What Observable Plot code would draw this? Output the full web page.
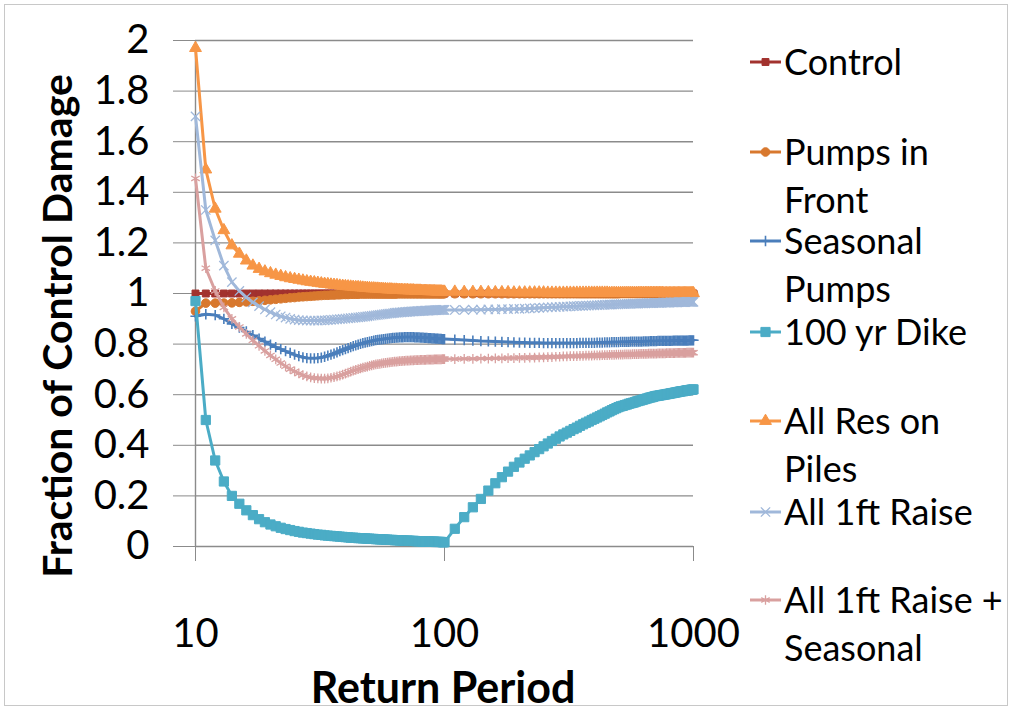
<!DOCTYPE html>
<html><head><meta charset="utf-8">
<script src="https://cdn.jsdelivr.net/npm/d3@7"></script>
<script src="https://cdn.jsdelivr.net/npm/@observablehq/plot@0.6"></script>
<style>
body{margin:0;background:#fff;}
#wrap{position:relative;width:1013px;height:711px;overflow:hidden;font-family:Lato,sans-serif;background:#fff;}
#frame{position:absolute;left:4px;top:4px;width:1004px;height:702px;border:1px solid #c8c8c8;box-sizing:border-box;pointer-events:none;}
#overlay{position:absolute;left:0;top:0;pointer-events:none;}
#wrap > svg.plot{position:absolute;left:0;top:0;}
</style></head><body><div id="wrap"><div id="frame"></div></div>
<script>
// Return periods: 10..100 by 1, then 110..1000 by 10
const returnPeriods = [...d3.range(10, 101, 1), ...d3.range(110, 1001, 10)];
const yTicks = [0, 0.2, 0.4, 0.6, 0.8, 1, 1.2, 1.4, 1.6, 1.8, 2];
const xTicks = [10, 100, 1000];
const seriesNames = ["Control", "Pumps in Front", "Seasonal Pumps", "100 yr Dike", "All Res on Piles", "All 1ft Raise", "All 1ft Raise + Seasonal"];

const control = [
1,1,1,1,1,1,1,1,1,1, 1,1,1,1,1,1,1,1,1,1, 1,1,1,1,1,1,1,1,1,1,
1,1,1,1,1,1,1,1,1,1, 1,1,1,1,1,1,1,1,1,1, 1,1,1,1,1,1,1,1,1,1,
1,1,1,1,1,1,1,1,1,1, 1,1,1,1,1,1,1,1,1,1, 1,1,1,1,1,1,1,1,1,1, 1,
1,1,1,1,1,1,1,1,1,1, 1,1,1,1,1,1,1,1,1,1, 1,1,1,1,1,1,1,1,1,1,
1,1,1,1,1,1,1,1,1,1, 1,1,1,1,1,1,1,1,1,1, 1,1,1,1,1,1,1,1,1,1,
1,1,1,1,1,1,1,1,1,1, 1,1,1,1,1,1,1,1,1,1, 1,1,1,1,1,1,1,1,1,1];

const pumpsInFront = [
0.930,0.962,0.962,0.962,0.963,0.965,0.967,0.969,0.971,0.973,
0.975,0.977,0.979,0.981,0.983,0.984,0.986,0.987,0.988,0.989,
0.990,0.991,0.992,0.993,0.993,0.994,0.994,0.995,0.995,0.996,
0.996,0.996,0.997,0.997,0.997,0.997,0.998,0.998,0.998,0.998,
0.998,0.998,0.998,0.998,0.998,0.998,0.998,0.998,0.998,0.998,
0.998,0.998,0.998,0.998,0.998,0.999,0.999,0.999,0.999,0.999,
0.999,0.999,0.999,0.999,0.999,0.999,0.999,0.999,0.999,0.999,
0.999,0.999,0.999,0.999,0.999,0.999,0.999,0.999,0.999,0.999,
0.999,0.999,0.999,0.999,0.999,0.999,0.999,0.999,0.999,0.999,
0.999,
0.999,0.999,0.999,0.999,0.999,0.999,0.999,0.999,0.999,0.999,
0.999,0.999,0.999,0.999,0.999,0.999,0.999,0.999,0.999,0.999,
0.999,0.999,0.999,0.999,0.999,0.999,0.999,0.999,0.999,0.999,
0.999,0.999,0.999,0.999,0.999,0.999,0.999,0.999,0.999,0.999,
1.000,1.000,1.000,1.000,1.000,1.000,1.000,1.000,1.000,1.000,
1.000,1.000,1.000,1.000,1.000,1.000,1.000,1.000,1.000,1.000,
1.000,1.000,1.000,1.000,1.000,1.000,1.000,1.000,1.000,1.000,
1.000,1.000,1.000,1.000,1.000,1.000,1.000,1.000,1.000,1.000,
1.000,1.000,1.000,1.000,1.000,1.000,1.000,1.000,1.000,1.000];

const seasonalPumps = [
0.910,0.918,0.915,0.900,0.880,0.865,0.850,0.835,0.822,0.810,
0.798,0.788,0.780,0.772,0.765,0.758,0.752,0.748,0.745,0.744,
0.744,0.745,0.747,0.750,0.754,0.758,0.762,0.767,0.772,0.776,
0.780,0.784,0.788,0.792,0.795,0.798,0.801,0.804,0.806,0.808,
0.810,0.812,0.814,0.816,0.817,0.818,0.819,0.820,0.821,0.822,
0.823,0.824,0.825,0.825,0.826,0.826,0.827,0.827,0.827,0.828,
0.828,0.828,0.828,0.828,0.828,0.828,0.827,0.827,0.827,0.827,
0.826,0.826,0.826,0.825,0.825,0.825,0.824,0.824,0.824,0.823,
0.823,0.823,0.822,0.822,0.822,0.821,0.821,0.821,0.820,0.820,
0.820,
0.818,0.816,0.814,0.812,0.811,0.810,0.809,0.808,0.807,0.806,
0.806,0.805,0.805,0.805,0.804,0.804,0.804,0.804,0.804,0.804,
0.804,0.804,0.804,0.804,0.805,0.805,0.805,0.805,0.805,0.805,
0.806,0.806,0.806,0.807,0.807,0.807,0.808,0.808,0.808,0.808,
0.809,0.809,0.809,0.809,0.809,0.810,0.810,0.810,0.810,0.810,
0.810,0.810,0.811,0.811,0.811,0.811,0.812,0.812,0.812,0.812,
0.812,0.813,0.813,0.813,0.813,0.813,0.813,0.813,0.813,0.813,
0.813,0.813,0.814,0.814,0.814,0.814,0.814,0.814,0.814,0.814,
0.814,0.814,0.814,0.814,0.814,0.815,0.815,0.815,0.815,0.815];

const dike100yr = [
0.970,0.500,0.340,0.257,0.200,0.169,0.143,0.124,0.108,0.096,
0.087,0.080,0.074,0.069,0.065,0.061,0.058,0.055,0.053,0.051,
0.049,0.047,0.046,0.044,0.043,0.042,0.041,0.040,0.039,0.038,
0.037,0.036,0.035,0.035,0.034,0.033,0.033,0.032,0.032,0.031,
0.031,0.030,0.030,0.029,0.029,0.028,0.028,0.028,0.027,0.027,
0.026,0.026,0.026,0.025,0.025,0.025,0.024,0.024,0.024,0.023,
0.023,0.023,0.023,0.022,0.022,0.022,0.022,0.021,0.021,0.021,
0.021,0.021,0.020,0.020,0.020,0.020,0.020,0.019,0.019,0.019,
0.019,0.019,0.018,0.018,0.018,0.018,0.018,0.018,0.017,0.017,
0.017,
0.070,0.116,0.155,0.188,0.221,0.250,0.274,0.296,0.315,0.332,
0.347,0.360,0.373,0.385,0.396,0.407,0.417,0.426,0.435,0.443,
0.450,0.457,0.464,0.470,0.477,0.483,0.489,0.494,0.500,0.505,
0.510,0.515,0.520,0.525,0.530,0.534,0.539,0.543,0.547,0.551,
0.554,0.556,0.559,0.561,0.564,0.566,0.568,0.570,0.573,0.575,
0.577,0.579,0.581,0.583,0.585,0.587,0.589,0.590,0.592,0.594,
0.595,0.596,0.597,0.598,0.599,0.600,0.601,0.602,0.603,0.604,
0.605,0.606,0.607,0.608,0.609,0.610,0.611,0.612,0.613,0.614,
0.614,0.615,0.616,0.617,0.618,0.618,0.619,0.620,0.620,0.621];

const resOnPiles = [
1.970,1.490,1.335,1.250,1.190,1.157,1.130,1.110,1.097,1.087,
1.080,1.074,1.069,1.064,1.060,1.057,1.054,1.051,1.048,1.046,
1.044,1.042,1.040,1.038,1.037,1.035,1.034,1.033,1.031,1.030,
1.029,1.028,1.027,1.026,1.025,1.025,1.024,1.023,1.022,1.022,
1.021,1.020,1.020,1.019,1.019,1.018,1.018,1.017,1.017,1.016,
1.016,1.016,1.015,1.015,1.015,1.014,1.014,1.014,1.013,1.013,
1.013,1.013,1.012,1.012,1.012,1.012,1.011,1.011,1.011,1.011,
1.011,1.010,1.010,1.010,1.010,1.010,1.009,1.009,1.009,1.009,
1.009,1.009,1.008,1.008,1.008,1.008,1.008,1.008,1.007,1.007,
1.007,
1.007,1.006,1.006,1.006,1.005,1.005,1.005,1.005,1.004,1.004,
1.004,1.004,1.004,1.004,1.004,1.003,1.003,1.003,1.003,1.003,
1.003,1.003,1.003,1.003,1.003,1.003,1.003,1.003,1.003,1.003,
1.003,1.003,1.003,1.003,1.003,1.002,1.002,1.002,1.002,1.002,
1.002,1.002,1.002,1.002,1.002,1.002,1.002,1.002,1.002,1.002,
1.002,1.002,1.002,1.002,1.002,1.002,1.002,1.002,1.002,1.002,
1.002,1.002,1.002,1.002,1.002,1.001,1.001,1.001,1.001,1.001,
1.001,1.001,1.001,1.001,1.001,1.001,1.001,1.001,1.001,1.001,
1.001,1.001,1.001,1.001,1.001,1.001,1.001,1.001,1.001,1.001];

const raise1ft = [
1.700,1.330,1.210,1.110,1.045,1.010,0.985,0.965,0.950,0.937,
0.926,0.917,0.910,0.905,0.900,0.897,0.895,0.894,0.893,0.893,
0.893,0.893,0.894,0.894,0.895,0.896,0.897,0.898,0.899,0.900,
0.901,0.902,0.903,0.904,0.905,0.906,0.907,0.908,0.909,0.910,
0.911,0.912,0.913,0.914,0.915,0.916,0.917,0.918,0.919,0.920,
0.921,0.921,0.922,0.923,0.924,0.924,0.925,0.925,0.926,0.926,
0.927,0.927,0.928,0.928,0.929,0.929,0.929,0.930,0.930,0.930,
0.931,0.931,0.931,0.932,0.932,0.932,0.932,0.933,0.933,0.933,
0.933,0.934,0.934,0.934,0.934,0.934,0.935,0.935,0.935,0.935,
0.935,
0.935,0.935,0.936,0.936,0.937,0.937,0.938,0.938,0.939,0.939,
0.940,0.941,0.942,0.943,0.944,0.945,0.946,0.946,0.947,0.948,
0.948,0.949,0.950,0.950,0.951,0.951,0.952,0.952,0.953,0.953,
0.954,0.954,0.955,0.955,0.956,0.956,0.956,0.957,0.957,0.957,
0.958,0.958,0.958,0.959,0.959,0.959,0.960,0.960,0.960,0.960,
0.961,0.961,0.961,0.961,0.962,0.962,0.962,0.962,0.962,0.963,
0.963,0.963,0.963,0.963,0.964,0.964,0.964,0.964,0.964,0.964,
0.965,0.965,0.965,0.965,0.965,0.965,0.966,0.966,0.966,0.966,
0.966,0.966,0.966,0.967,0.967,0.967,0.967,0.967,0.967,0.967];

const raise1ftSeasonal = [
1.455,1.100,1.010,0.945,0.900,0.868,0.840,0.815,0.793,0.773,
0.755,0.740,0.725,0.712,0.701,0.692,0.684,0.677,0.672,0.668,
0.666,0.665,0.664,0.664,0.665,0.667,0.669,0.672,0.675,0.679,
0.683,0.687,0.691,0.695,0.698,0.701,0.704,0.707,0.709,0.711,
0.714,0.716,0.718,0.720,0.721,0.722,0.724,0.725,0.726,0.727,
0.728,0.729,0.730,0.731,0.731,0.732,0.733,0.733,0.734,0.734,
0.735,0.735,0.735,0.736,0.736,0.736,0.737,0.737,0.737,0.737,
0.738,0.738,0.738,0.738,0.738,0.739,0.739,0.739,0.739,0.739,
0.739,0.740,0.740,0.740,0.740,0.740,0.740,0.740,0.741,0.741,
0.741,
0.741,0.742,0.742,0.743,0.743,0.744,0.744,0.745,0.745,0.746,
0.746,0.747,0.747,0.748,0.748,0.749,0.749,0.750,0.750,0.751,
0.751,0.752,0.752,0.752,0.753,0.753,0.754,0.754,0.754,0.755,
0.755,0.755,0.756,0.756,0.756,0.757,0.757,0.757,0.758,0.758,
0.758,0.758,0.759,0.759,0.759,0.759,0.760,0.760,0.760,0.760,
0.761,0.761,0.761,0.761,0.761,0.762,0.762,0.762,0.762,0.762,
0.762,0.763,0.763,0.763,0.763,0.763,0.763,0.764,0.764,0.764,
0.764,0.764,0.764,0.764,0.765,0.765,0.765,0.765,0.765,0.765,
0.765,0.765,0.765,0.766,0.766,0.766,0.766,0.766,0.766,0.766];

const seriesValues = [control, pumpsInFront, seasonalPumps, dike100yr, resOnPiles, raise1ft, raise1ftSeasonal];
const seriesColors = ["#A2322E", "#D8782E", "#4A7EBB", "#4BACC6", "#F79646", "#A0B8DA", "#D9A09F"];
const legendLines = [["Control"], ["Pumps in", "Front"], ["Seasonal", "Pumps"], ["100 yr Dike"], ["All Res on", "Piles"], ["All 1ft Raise"], ["All 1ft Raise +", "Seasonal"]];

// marker styles
const markerStyle = [
  {symbol: "square", r: 3.9, filled: true, sw: 1},
  {symbol: "circle", r: 4.3, filled: true, sw: 1},
  {symbol: "plus", r: 3.4, filled: false, sw: 1.6},
  {symbol: "square", r: 5.2, filled: true, sw: 1},
  {symbol: "triangle", r: 4.4, filled: true, sw: 1},
  {symbol: "times", r: 4.3, filled: false, sw: 1.3},
  {symbol: "asterisk", r: 4.6, filled: false, sw: 1.3}
];

const rows = [];
seriesNames.forEach((name, s) => {
  seriesValues[s].forEach((v, i) => {
    if (returnPeriods[i] !== undefined) rows.push({series: name, rp: returnPeriods[i], v});
  });
});

const marks = [
  Plot.gridY(yTicks, {stroke: "#8b8b8b", strokeOpacity: 1, strokeWidth: 1.4}),
  Plot.ruleX([10], {stroke: "#8b8b8b", strokeWidth: 1.4}),
  Plot.axisY(yTicks, {tickSize: 22, tickPadding: 24, stroke: "#8b8b8b", fill: "#000", tickFormat: d3.format("~g"), label: null, fontSize: 40}),
  Plot.axisX(xTicks, {tickSize: 15, tickPadding: 57, stroke: "#8b8b8b", fill: "#000", tickFormat: d => String(d), label: null, fontSize: 40})
];
seriesNames.forEach((name, s) => {
  const data = rows.filter(d => d.series === name);
  const m = markerStyle[s];
  marks.push(Plot.line(data, {x: "rp", y: "v", stroke: seriesColors[s], strokeWidth: 3}));
  marks.push(Plot.dot(data, {x: "rp", y: "v", symbol: m.symbol, r: m.r,
    fill: m.filled ? seriesColors[s] : "none", stroke: seriesColors[s], strokeWidth: m.sw}));
});

const chart = Plot.plot({
  width: 1013, height: 711,
  marginLeft: 195, marginRight: 320, marginTop: 40, marginBottom: 165,
  x: {type: "log", domain: [10, 1000]},
  y: {domain: [0, 2]},
  style: {fontFamily: "Lato, sans-serif", fontSize: "40px", color: "#000", background: "transparent"},
  marks
});
chart.classList.add("plot");
const wrap = document.getElementById("wrap");
wrap.insertBefore(chart, wrap.firstChild);

// overlay: axis titles and legend
const ov = d3.select(wrap).append("svg").attr("id", "overlay")
  .attr("width", 1013).attr("height", 711)
  .style("font-family", "Lato, sans-serif");
ov.append("text").attr("transform", "translate(72,326) rotate(-90)")
  .attr("text-anchor", "middle").attr("font-weight", "bold").attr("font-size", 41)
  .text("Fraction of Control Damage");
ov.append("text").attr("x", 443).attr("y", 703)
  .attr("text-anchor", "middle").attr("font-weight", "bold").attr("font-size", 43)
  .text("Return Period");

const legendY = [62, 152, 241, 332, 421, 512, 600];
const symMap = {square: d3.symbolSquare, circle: d3.symbolCircle, plus: d3.symbolPlus, triangle: d3.symbolTriangle, times: d3.symbolTimes, asterisk: d3.symbolAsterisk};
seriesNames.forEach((name, s) => {
  const y = legendY[s];
  const m = markerStyle[s];
  const g = ov.append("g");
  g.append("line").attr("x1", 750).attr("x2", 781).attr("y1", y).attr("y2", y)
    .attr("stroke", seriesColors[s]).attr("stroke-width", 3);
  g.append("path").attr("transform", `translate(765.5,${y})`)
    .attr("d", d3.symbol(symMap[m.symbol], Math.PI * m.r * m.r)())
    .attr("fill", m.filled ? seriesColors[s] : "none").attr("stroke", seriesColors[s]).attr("stroke-width", m.sw);
  legendLines[s].forEach((line, k) => {
    g.append("text").attr("x", 784).attr("y", y + 13 + k * 48).attr("font-size", 36).attr("fill", "#000").text(line);
  });
});
</script></body></html>
